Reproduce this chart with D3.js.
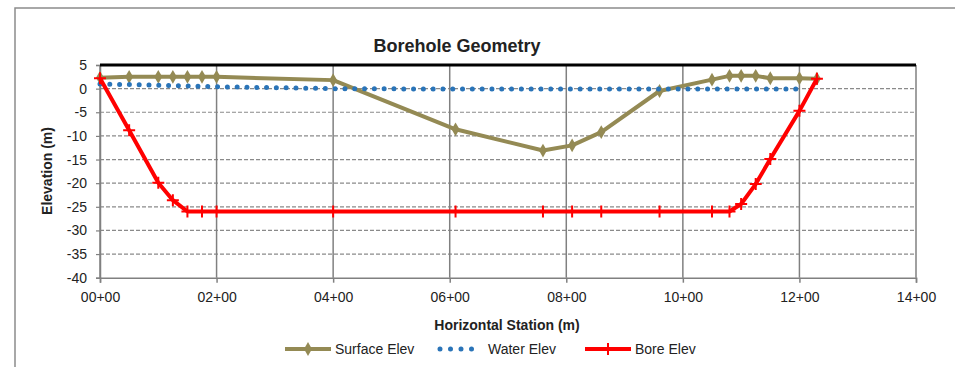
<!DOCTYPE html>
<html>
<head>
<meta charset="utf-8">
<script src="https://cdn.jsdelivr.net/npm/d3@7"></script>
<style>
  body { margin: 0; background: #fff; }
  text { font-family: "Liberation Sans", Arial, sans-serif; fill: #222; }
</style>
</head>
<body>
<svg id="chart" width="955" height="367"></svg>
<script>
// stations in hundreds of metres
var stations = [0, 0.5, 1.0, 1.25, 1.5, 1.75, 2.0, 4.0, 6.1, 7.6, 8.1, 8.6, 9.6, 10.5, 10.8, 11.0, 11.25, 11.5, 12.0, 12.3];
var surfaceElev = [2.3, 2.5, 2.5, 2.5, 2.5, 2.5, 2.5, 1.8, -8.6, -13.1, -12.0, -9.2, -0.5, 1.9, 2.7, 2.7, 2.7, 2.2, 2.2, 2.1];
var boreElev = [2.2, -8.8, -19.9, -23.6, -26.0, -26.0, -26.0, -26.0, -26.0, -26.0, -26.0, -26.0, -26.0, -26.0, -26.0, -24.4, -20.2, -14.9, -4.7, 2.1];
var waterStations = [0, 2.0, 4.0, 6.1, 8.1, 10.5, 12.05];
var waterElev = [1.0, 0.4, 0.0, -0.1, -0.1, -0.1, -0.1];
var xTicks = [0, 2, 4, 6, 8, 10, 12, 14];
var yTicks = [5, 0, -5, -10, -15, -20, -25, -30, -35, -40];

var svg = d3.select("#chart");
var plotLeft = 100, plotRight = 916, plotTop = 65, plotBottom = 277.7;

var x = d3.scaleLinear().domain([0, 14]).range([plotLeft, plotRight]);
var y = d3.scaleLinear().domain([-40, 5]).range([plotBottom, plotTop]);

// chart frame
svg.append("rect").attr("x", 15).attr("y", 8).attr("width", 1000).attr("height", 400)
  .attr("fill", "none").attr("stroke", "#8c8c8c").attr("stroke-width", 1.5);

// title
svg.append("text").attr("x", 457).attr("y", 52).attr("text-anchor", "middle")
  .style("font-size", "18px").style("font-weight", "bold").text("Borehole Geometry");

// horizontal dashed gridlines
svg.append("g").selectAll("line").data(yTicks.filter(function(d) { return d > -40 && d < 5; }))
  .enter().append("line")
  .attr("x1", plotLeft).attr("x2", plotRight)
  .attr("y1", function(d) { return y(d); }).attr("y2", function(d) { return y(d); })
  .attr("stroke", "#8a8a8a").attr("stroke-width", 1.2).attr("stroke-dasharray", "4,2");

// vertical gridlines
svg.append("g").selectAll("line").data(xTicks)
  .enter().append("line")
  .attr("x1", function(d) { return x(d); }).attr("x2", function(d) { return x(d); })
  .attr("y1", plotTop).attr("y2", plotBottom)
  .attr("stroke", "#808080").attr("stroke-width", 1.5);

// axes
var xAxis = d3.axisBottom(x).tickValues(xTicks).tickSize(5).tickPadding(9)
  .tickFormat(function(d) { return d3.format("02d")(d) + "+00"; });
var gx = svg.append("g").attr("transform", "translate(0," + plotBottom + ")").call(xAxis);
gx.select(".domain").attr("stroke", "#808080").attr("stroke-width", 1.5);
gx.selectAll(".tick line").attr("stroke", "#808080").attr("stroke-width", 1.5);
gx.selectAll(".tick text").style("font-size", "14px").style("font-family", "Liberation Sans, Arial, sans-serif").attr("fill", "#222");

var yAxis = d3.axisLeft(y).tickValues(yTicks).tickSize(4).tickPadding(9)
  .tickFormat(function(d) { return String(d); });
var gy = svg.append("g").attr("transform", "translate(" + plotLeft + ",0)").call(yAxis);
gy.select(".domain").attr("stroke", "#808080").attr("stroke-width", 1.5);
gy.selectAll(".tick line").attr("stroke", "#808080").attr("stroke-width", 1.2);
gy.selectAll(".tick text").style("font-size", "14px").style("font-family", "Liberation Sans, Arial, sans-serif").attr("fill", "#222");

// top border
svg.append("line").attr("x1", plotLeft).attr("x2", plotRight).attr("y1", plotTop).attr("y2", plotTop)
  .attr("stroke", "#000").attr("stroke-width", 3);

// axis titles
svg.append("text").attr("x", 507).attr("y", 330).attr("text-anchor", "middle")
  .style("font-size", "14px").style("font-weight", "bold").text("Horizontal Station (m)");
svg.append("text").attr("transform", "translate(52,171) rotate(-90)").attr("text-anchor", "middle")
  .style("font-size", "14px").style("font-weight", "bold").text("Elevation (m)");

var surfColor = "#948a54", waterColor = "#2a74b8", boreColor = "#ff0000";

var surfData = stations.map(function(s, i) { return [s, surfaceElev[i]]; });
var boreData = stations.map(function(s, i) { return [s, boreElev[i]]; });
var waterData = waterStations.map(function(s, i) { return [s, waterElev[i]]; });

var line = d3.line().x(function(d) { return x(d[0]); }).y(function(d) { return y(d[1]); });

// surface
svg.append("path").datum(surfData).attr("d", line).attr("fill", "none")
  .attr("stroke", surfColor).attr("stroke-width", 4).attr("stroke-linejoin", "round");
var diamond = d3.symbol().type(d3.symbolDiamond).size(55);
svg.append("g").selectAll("path").data(surfData).enter().append("path")
  .attr("d", diamond)
  .attr("transform", function(d) { return "translate(" + x(d[0]) + "," + y(d[1]) + ")"; })
  .attr("fill", surfColor);

// water
svg.append("path").datum(waterData).attr("d", line).attr("fill", "none")
  .attr("stroke", waterColor).attr("stroke-width", 5).attr("stroke-linecap", "round")
  .attr("stroke-dasharray", "0,9.8");

// bore
svg.append("path").datum(boreData).attr("d", line).attr("fill", "none")
  .attr("stroke", boreColor).attr("stroke-width", 4).attr("stroke-linejoin", "round");
var plus = "M-6,0H6M0,-6V6";
svg.append("g").selectAll("path").data(boreData).enter().append("path")
  .attr("d", plus)
  .attr("transform", function(d) { return "translate(" + x(d[0]) + "," + y(d[1]) + ")"; })
  .attr("stroke", boreColor).attr("stroke-width", 2).attr("fill", "none");

// legend
var ly = 349;
var lg = svg.append("g");
lg.append("line").attr("x1", 285).attr("x2", 331).attr("y1", ly).attr("y2", ly)
  .attr("stroke", surfColor).attr("stroke-width", 4);
lg.append("path").attr("d", diamond).attr("transform", "translate(308," + ly + ")").attr("fill", surfColor);
lg.append("text").attr("x", 335).attr("y", ly + 5).style("font-size", "14px").text("Surface Elev");

lg.append("line").attr("x1", 440).attr("x2", 482).attr("y1", ly).attr("y2", ly)
  .attr("stroke", waterColor).attr("stroke-width", 5).attr("stroke-linecap", "round")
  .attr("stroke-dasharray", "0,10.5");
lg.append("text").attr("x", 488).attr("y", ly + 5).style("font-size", "14px").text("Water Elev");

lg.append("line").attr("x1", 585).attr("x2", 631).attr("y1", ly).attr("y2", ly)
  .attr("stroke", boreColor).attr("stroke-width", 4);
lg.append("path").attr("d", plus).attr("transform", "translate(608," + ly + ")")
  .attr("stroke", boreColor).attr("stroke-width", 2);
lg.append("text").attr("x", 635).attr("y", ly + 5).style("font-size", "14px").text("Bore Elev");
</script>
</body>
</html>
